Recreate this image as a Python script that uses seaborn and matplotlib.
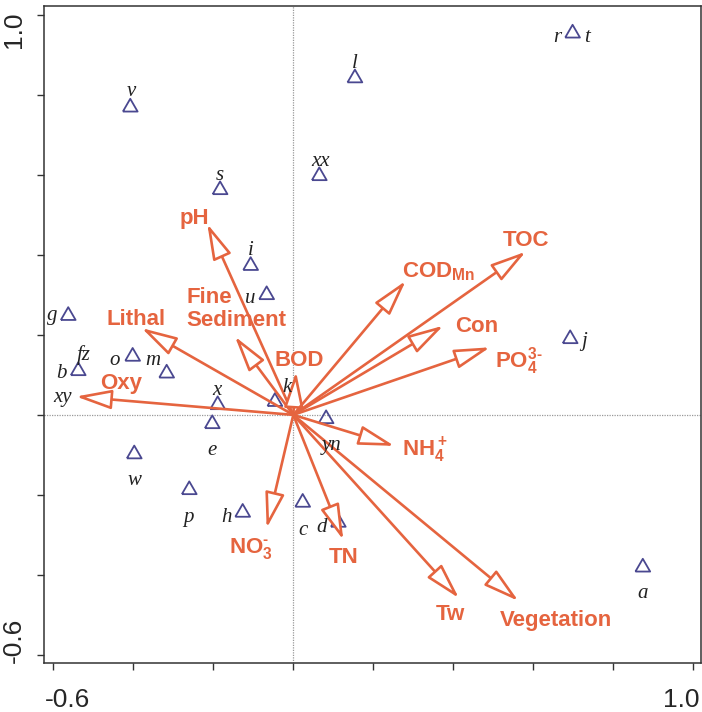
import matplotlib
matplotlib.use("Agg")
import matplotlib.pyplot as plt
import matplotlib.transforms as mtransforms
import seaborn as sns
import pandas as pd

# site scores (triangles)
site_x = [0.698, 0.154, -0.4075, 0.065, -0.183, -0.1066, -0.0666, -0.5625, 0.692, -0.5375,
          -0.4015, -0.3165, -0.189, -0.2025, -0.046, 0.082, -0.3975, -0.26, -0.1265, 0.0235,
          0.1125, 0.8735]
site_y = [0.954, 0.842, 0.769, 0.5975, 0.5625, 0.373, 0.30, 0.248, 0.19, 0.11,
          0.146, 0.104, 0.025, -0.0225, 0.033, -0.01, -0.098, -0.1875, -0.244, -0.219,
          -0.269, -0.381]

# site labels
site_names = ['r', 't', 'l', 'v', 'xx', 's', 'i', 'u', 'g', 'j', 'b', 'fz', 'o', 'm',
              'xy', 'x', 'k', 'e', 'yn', 'w', 'p', 'h', 'c', 'd', 'a']
name_x = [0.6605, 0.7335, 0.154, -0.406, 0.067, -0.183, -0.106, -0.107, -0.603, 0.727,
          -0.579, -0.523, -0.446, -0.352, -0.577, -0.191, -0.016, -0.203, 0.096, -0.396,
          -0.263, -0.166, 0.024, 0.072, 0.874]
name_y = [0.931, 0.931, 0.867, 0.796, 0.621, 0.5875, 0.40, 0.279, 0.2375, 0.171,
          0.092, 0.1375, 0.125, 0.125, 0.033, 0.05, 0.058, -0.1, -0.0875, -0.175,
          -0.267, -0.267, -0.30, -0.292, -0.458]

# environmental variables (arrow tips)
env_names = ['pH', 'Lithal', 'Fine\nSediment', 'BOD', 'Oxy', 'COD$_{Mn}$', 'TOC', 'Con',
             'PO$_4^{3\\text{-}}$', 'NH$_4^+$', 'Tw', 'Vegetation', 'TN', 'NO$_3^{\\text{-}}$']
env_x = [-0.215, -0.379, -0.146, 0.007, -0.543, 0.281, 0.581, 0.375,
         0.4917, 0.2525, 0.414, 0.5625, 0.125, -0.0666]
env_y = [0.4775, 0.217, 0.196, 0.108, 0.046, 0.335, 0.408, 0.223,
         0.169, -0.0775, -0.458, -0.465, -0.3125, -0.283]
# label anchor (left, baseline)
lab_x = [-0.283, -0.468, -0.268, -0.048, -0.483, 0.271, 0.5225, 0.404,
         0.505, 0.271, 0.356, 0.5168, 0.0875, -0.16]
lab_y = [0.4775, 0.225, 0.2175, 0.121, 0.065, 0.3425, 0.421, 0.206,
         0.1175, -0.104, -0.5125, -0.529, -0.37, -0.345]

sns.set_style("ticks")
plt.rcParams['font.family'] = ['Liberation Sans', 'DejaVu Sans']
plt.rcParams['mathtext.fontset'] = 'custom'
plt.rcParams['mathtext.rm'] = 'Liberation Sans:bold'
plt.rcParams['mathtext.it'] = 'Liberation Sans:bold'
plt.rcParams['mathtext.bf'] = 'Liberation Sans:bold'

red = '#E5643F'
navy = '#4A4890'

fig = plt.figure(figsize=(7.02, 7.12), dpi=100)
ax = fig.add_axes([0.063, 0.0684, 0.9356, 0.9236])

ax.axhline(0, color='#999999', lw=0.9, ls=(0, (1, 1)), zorder=1)
ax.axvline(0, color='#999999', lw=0.9, ls=(0, (1, 1)), zorder=1)

tri = [(-0.866, -0.5), (0.866, -0.5), (0, 1), (-0.866, -0.5)]
df = pd.DataFrame({'x': site_x, 'y': site_y})
sns.scatterplot(data=df, x='x', y='y', marker=tri, s=150, facecolors='none',
                edgecolor=navy, linewidth=1.3, ax=ax, zorder=2)

for n, tx, ty in zip(site_names, name_x, name_y):
    ax.text(tx, ty, n, family='Liberation Serif', style='italic', fontsize=15,
            ha='center', va='baseline', color='#222222', zorder=4)

for n, tx, ty, lx, ly in zip(env_names, env_x, env_y, lab_x, lab_y):
    ax.annotate('', xy=(tx, ty), xytext=(0, 0),
                arrowprops=dict(arrowstyle='-|>,head_length=2.2,head_width=0.6',
                                mutation_scale=10, fc='white', ec=red, lw=1.9,
                                shrinkA=0, shrinkB=0), zorder=3)
    if '\n' in n:
        ax.text(lx, ly + 0.1025, n, color=red, fontsize=16, fontweight='bold',
                ha='left', va='top', linespacing=1.15, zorder=5)
    else:
        ax.text(lx, ly, n, color=red, fontsize=16, fontweight='bold',
                ha='left', va='baseline', zorder=5)

ax.set_xlim(-0.6225, 1.019)
ax.set_ylim(-0.621, 1.023)
ticks = [-0.6, -0.4, -0.2, 0, 0.2, 0.4, 0.6, 0.8, 1.0]
ax.set_xticks(ticks)
ax.set_yticks(ticks)
ax.set_xticklabels(['-0.6'] + [''] * 7 + ['1.0'])
ax.set_yticklabels(['-0.6'] + [''] * 7 + ['1.0'])
ax.set_xlabel('')
ax.set_ylabel('')
ax.tick_params(axis='both', direction='out', length=5, width=1, labelsize=19, color='#333333')
ax.tick_params(axis='x', pad=13)
ax.tick_params(axis='y', pad=8)

xl = ax.get_xticklabels()
xl[0].set_ha('left')
xl[0].set_transform(xl[0].get_transform() + mtransforms.ScaledTranslation(-8 / 100, 0, fig.dpi_scale_trans))
xl[-1].set_ha('right')
xl[-1].set_transform(xl[-1].get_transform() + mtransforms.ScaledTranslation(6 / 100, 0, fig.dpi_scale_trans))
for t in ax.get_yticklabels():
    t.set_rotation(90)
yl = ax.get_yticklabels()
yl[0].set_va('bottom')
yl[0].set_transform(yl[0].get_transform() + mtransforms.ScaledTranslation(0, -8 / 100, fig.dpi_scale_trans))
yl[-1].set_va('top')
yl[-1].set_transform(yl[-1].get_transform() + mtransforms.ScaledTranslation(0, 3 / 100, fig.dpi_scale_trans))
for s in ax.spines.values():
    s.set_color('#333333')
    s.set_linewidth(1.1)

fig.savefig('out.png', dpi=100)
